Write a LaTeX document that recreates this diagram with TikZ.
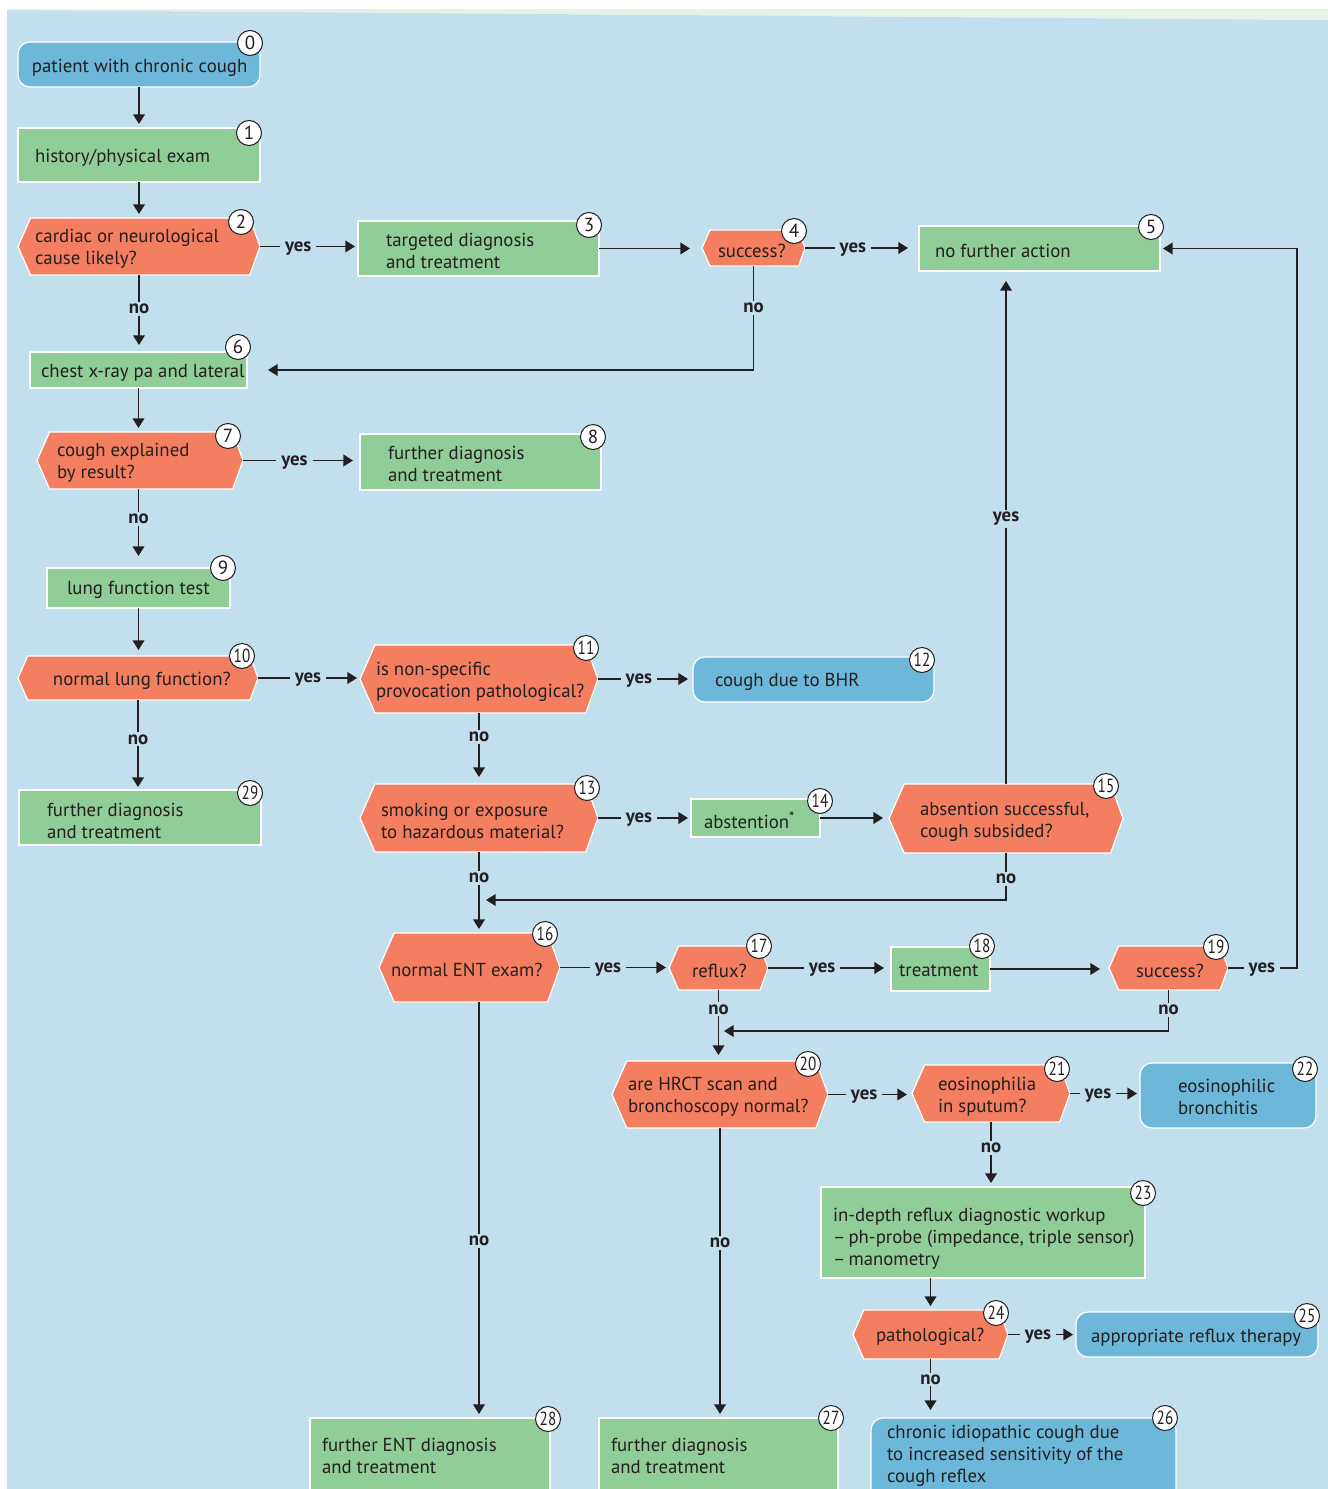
\documentclass[tikz,border=0pt]{standalone}
\usepackage{fontspec}
\setmainfont{PT Sans}
\usetikzlibrary{arrows.meta,calc}
\definecolor{bgblue}{HTML}{C2DFEE}
\definecolor{topgreen}{HTML}{E6F2E4}
\definecolor{nblue}{HTML}{6DB7D9}
\definecolor{ngreen}{HTML}{91CD96}
\definecolor{norange}{HTML}{F47F60}
\definecolor{ink}{HTML}{231F20}
\newcommand\mkshape[6]{%
 \pgfmathsetmacro\myBW{(#5-#3)/2}%
 \pgfmathsetmacro\myBH{(#6-#4)/2}%
 \pgfmathsetmacro\myCX{(#3+#5)/2}%
 \pgfmathsetmacro\myCY{(#4+#6)/2}%
 \node[#1, minimum width=\myBW pt, minimum height=\myBH pt] (#2) at (\myCX,\myCY) {};}
\newcommand\mkhex[5]{%
 \mkshape{hexbase}{#1}{#2}{#3}{#4}{#5}%
 \pgfmathsetmacro\myDL{0.11*(#5-#3)}%
 \pgfmathsetmacro\myDR{0.09*(#5-#3)}%
 \path[hexfill] (#1.west) -- ([xshift=\myDL pt]#1.north west) -- ([xshift=-\myDR pt]#1.north east) -- (#1.east) -- ([xshift=-\myDR pt]#1.south east) -- ([xshift=\myDL pt]#1.south west) -- cycle;}
\newcommand\mktext[4]{\node[txt] (#1) at ({#2},{#3+2.5}) {#4};}
\newcommand\mkbadge[4]{\node[badge] (#1) at (#2,#3) {#4};}
\newcommand\mkbadgeW[4]{\node[badge] (#1) at (#2,#3) {\scalebox{0.8}[1]{#4}};}
\begin{document}
\begin{tikzpicture}[x=0.5pt,y=-0.5pt,
 base/.style={inner sep=0pt, outer sep=0pt},
 gbox/.style={base, rectangle, fill=ngreen, draw=white, line width=0.6pt},
 bbox/.style={base, rectangle, rounded corners=6pt, fill=nblue, draw=white, line width=0.6pt},
 hexbase/.style={base, rectangle},
 hexfill/.style={fill=norange, draw=white, line width=0.6pt},
 txt/.style={base, anchor=west, align=left, text=ink, font=\fontsize{9.4}{11}\selectfont},
 badge/.style={circle, draw=ink, fill=white, line width=0.5pt, inner sep=0pt, minimum size=12.5pt, font=\fontsize{9.5}{10}\selectfont, text=ink},
 ln/.style={draw=ink, line width=0.85pt},
 arr/.style={ln, -{Triangle[length=4.8pt,width=5.8pt]}},
 lbl/.style={fill=bgblue, inner xsep=2.5pt, inner ysep=1pt, yshift=-0.8pt, text=ink, font=\fontsize{9.4}{11}\selectfont\bfseries}]
\useasboundingbox (0,0) rectangle (1328,1489);
\clip (0,0) rectangle (1328,1489);
\fill[white] (0,0) rectangle (1328,1489);
\fill[topgreen] (7,9) -- (1328,9) -- (1328,20) -- (7,10) -- cycle;
\fill[bgblue] (7,10) -- (1328,20) -- (1328,1489) -- (7,1489) -- cycle;
% shapes
\mkshape{bbox}{n0}{18}{42}{260}{87}
\mkshape{gbox}{n1}{18}{128}{260}{182}
\mkhex{n2}{18}{218}{260}{275}
\mkshape{gbox}{n3}{358}{221}{599}{276}
\mkhex{n4}{702}{230}{805}{266}
\mkshape{gbox}{n5}{919}{226}{1160}{271}
\mkshape{gbox}{n6}{30}{352}{247}{388}
\mkhex{n7}{37}{432}{243}{489}
\mkshape{gbox}{n8}{360}{434}{601}{490}
\mkshape{gbox}{n9}{47}{568}{230}{608}
\mkhex{n10}{18}{656}{258}{700}
\mkhex{n11}{360}{645}{598}{713}
\mkshape{bbox}{n12}{693}{657}{934}{702}
\mkhex{n13}{360}{784}{598}{852}
\mkshape{gbox}{n14}{691}{799}{820}{837}
\mkhex{n15}{889}{784}{1123}{853}
\mkhex{n16}{379}{933}{560}{1002}
\mkhex{n17}{669}{946}{768}{990}
\mkshape{gbox}{n18}{891}{947}{990}{991}
\mkhex{n19}{1109}{946}{1228}{990}
\mkhex{n20}{612}{1061}{828}{1128}
\mkhex{n21}{912}{1065}{1070}{1122}
\mkshape{bbox}{n22}{1140}{1063}{1316}{1128}
\mkshape{gbox}{n23}{821}{1187}{1145}{1278}
\mkhex{n24}{853}{1310}{1008}{1359}
\mkshape{bbox}{n25}{1076}{1312}{1318}{1357}
\mkshape{bbox}{n26}{871}{1418}{1176}{1510}
\mkshape{gbox}{n27}{599}{1418}{838}{1510}
\mkshape{gbox}{n28}{310}{1418}{550}{1510}
\mkshape{gbox}{n29}{19}{790}{261}{845}
% texts
\mktext{t0}{32}{65}{patient with chronic cough}
\mktext{t1}{35}{155}{history/physical exam}
\mktext{t2}{35}{246}{cardiac or neurological\\cause likely?}
\mktext{t3}{386}{248}{targeted diagnosis\\and treatment}
\mktext{t4}{718}{248}{success?}
\mktext{t5}{935}{248}{no further action}
\mktext{t6}{41}{370}{chest x-ray pa and lateral}
\mktext{t7}{57}{460}{cough explained\\by result?}
\mktext{t8}{388}{461}{further diagnosis\\and treatment}
\mktext{t9}{67}{587}{lung function test}
\mktext{t10}{53}{678}{normal lung function?}
\mktext{t11}{376}{679}{is non-specific\\provocation pathological?}
\mktext{t12}{715}{679}{cough due to BHR}
\mktext{t13}{381}{818}{smoking or exposure\\to hazardous material?}
\mktext{t14}{704}{818}{abstention\raisebox{0.6ex}{\fontsize{7.5}{8}\selectfont *}}
\mktext{t15}{920}{819}{absention successful,\\cough subsided?}
\mktext{t16}{391}{967}{normal ENT exam?}
\mktext{t17}{692}{968}{reflux?}
\mktext{t18}{899}{968}{treatment}
\mktext{t19}{1136}{968}{success?}
\mktext{t20}{628}{1094}{are HRCT scan and\\bronchoscopy normal?}
\mktext{t21}{938}{1094}{eosinophilia\\in sputum?}
\mktext{t22}{1178}{1094}{eosinophilic\\bronchitis}
\mktext{t23}{833}{1236}{in-depth reflux diagnostic workup\\–\,ph-probe (impedance, triple sensor)\\–\,manometry}
\mktext{t24}{876}{1334}{pathological?}
\mktext{t25}{1091}{1335}{appropriate reflux therapy}
\mktext{t26}{887}{1453}{chronic idiopathic cough due\\to increased sensitivity of the\\cough reflex}
\mktext{t27}{611}{1453}{further diagnosis\\and treatment}
\mktext{t28}{322}{1453}{further ENT diagnosis\\and treatment}
\mktext{t29}{47}{818}{further diagnosis\\and treatment}
% badges
\mkbadge{b0}{250}{43}{0}
\mkbadge{b1}{249}{133}{1}
\mkbadge{b2}{241}{222}{2}
\mkbadge{b3}{589}{225}{3}
\mkbadge{b4}{794}{231}{4}
\mkbadge{b5}{1151}{227}{5}
\mkbadge{b6}{238}{347}{6}
\mkbadge{b7}{228}{436}{7}
\mkbadge{b8}{593}{437}{8}
\mkbadge{b9}{223}{568}{9}
\mkbadgeW{b10}{242}{656}{10}
\mkbadgeW{b11}{586}{648}{11}
\mkbadgeW{b12}{922}{660}{12}
\mkbadgeW{b13}{587}{788}{13}
\mkbadgeW{b14}{820}{801}{14}
\mkbadgeW{b15}{1106}{786}{15}
\mkbadgeW{b16}{545}{934}{16}
\mkbadgeW{b17}{759}{946}{17}
\mkbadgeW{b18}{982}{946}{18}
\mkbadgeW{b19}{1216}{947}{19}
\mkbadgeW{b20}{808}{1064}{20}
\mkbadgeW{b21}{1057}{1069}{21}
\mkbadgeW{b22}{1305}{1069}{22}
\mkbadgeW{b23}{1143}{1193}{23}
\mkbadgeW{b24}{996}{1313}{24}
\mkbadgeW{b25}{1307}{1316}{25}
\mkbadgeW{b26}{1165}{1418}{26}
\mkbadgeW{b27}{831}{1418}{27}
\mkbadgeW{b28}{548}{1419}{28}
\mkbadgeW{b29}{250}{793}{29}
% connectors
\coordinate (j1) at (479,900);
\coordinate (j2) at (719,1031);
\coordinate (c19) at (1297,968);
\draw[arr, shorten >=2pt] (n0.south) -- (n1.north);
\draw[arr, shorten >=2pt] (n1.south) -- (n2.north);
\draw[arr, shorten >=1.5pt] (n2.east) -- node[lbl,pos=.39] (l1) {yes} (n2.east -| n3.west);
\draw[arr, shorten >=3.5pt] (n2.south) -- node[lbl,pos=.42] (l2) {no} (n2.south |- n6.north);
\draw[arr, shorten >=6pt] (n3.east) -- (n3.east -| n4.west);
\draw[arr, shorten >=5.5pt] (n4.east) -- node[lbl,pos=.42] (l3) {yes} (n4.east -| n5.west);
\draw[arr, shorten >=10.5pt] (n4.south) |- node[lbl,pos=.195] (l4) {no} (n6.east);
\draw[arr, shorten >=2pt] (n6.south) -- (n6.south |- n7.north);
\draw[arr, shorten >=3.5pt] (n7.east) -- node[lbl,pos=.44] (l5) {yes} (n7.east -| n8.west);
\draw[arr, shorten >=6pt] (n6.south |- n7.south) -- node[lbl,pos=.36] (l6) {no} (n6.south |- n9.north);
\draw[arr, shorten >=3pt] (n9.south) -- (n9.south |- n10.north);
\draw[arr, shorten >=1.5pt] (n10.east) -- node[lbl,pos=.49] (l7) {yes} (n10.east -| n11.west);
\draw[arr, shorten >=1.5pt] (n10.south) -- node[lbl,pos=.42] (l8) {no} (n10.south |- n29.north);
\draw[arr, shorten >=2.5pt] (n11.east) -- node[lbl,pos=.43] (l9) {yes} (n11.east -| n12.west);
\draw[arr, shorten >=3.5pt] (n11.south) -- node[lbl,pos=.31] (l10) {no} (n11.south |- n13.north);
\draw[arr, shorten >=1.5pt] (n13.east) -- node[lbl,pos=.44] (l11) {yes} (n13.east -| n14.west);
\draw[arr, shorten >=3pt] (n14.east) -- (n14.east -| n15.west);
\draw[arr, shorten >=5pt] (n15.north) -- node[lbl,pos=.52] (l12) {yes} (n15.north |- n5.south);
\draw[arr, shorten >=3.5pt] (n15.south) |- node[lbl,pos=.255] (l13) {no} (j1);
\draw[arr, shorten >=2pt] (n13.south) -- node[lbl,pos=.3] (l14) {no} (n13.south |- n16.north);
\draw[arr, shorten >=1.5pt] (n16.east) -- node[lbl,pos=.44] (l15) {yes} (n16.east -| n17.west);
\draw[arr, shorten >=3.5pt] (n17.east) -- node[lbl,pos=.44] (l16) {yes} (n17.east -| n18.west);
\draw[arr, shorten >=4.5pt] (n18.east) -- (n18.east -| n19.west);
\draw[arr, shorten >=1.5pt] (n19.east) -- node[lbl,pos=.49] (l17) {yes} (n19.east -| c19) |- (n5.east);
\draw[arr, shorten >=3pt] (n17.south) -- node[lbl,pos=.25] (l18) {no} (n17.south |- n20.north);
\draw[arr, shorten >=2.5pt] (n19.south) |- node[lbl,pos=.22] (l19) {no} (j2);
\draw[arr, shorten >=2.5pt] (n20.east) -- node[lbl,pos=.43] (l20) {yes} (n20.east -| n21.west);
\draw[arr, shorten >=1.5pt] (n21.east) -- node[lbl,pos=.4] (l21) {yes} (n21.east -| n22.west);
\draw[arr, shorten >=2pt] (n21.south) -- node[lbl,pos=.37] (l22) {no} (n21.south |- n23.north);
\draw[arr, shorten >=2pt] (n24.north |- n23.south) -- (n24.north);
\draw[arr, shorten >=1.5pt] (n24.east) -- node[lbl,pos=.44] (l23) {yes} (n24.east -| n25.west);
\draw[arr, shorten >=4pt] (n24.south) -- node[lbl,pos=.32] (l24) {no} (n24.south |- n26.north);
\draw[arr, shorten >=2pt] (n13.south |- n16.south) -- node[lbl,pos=.57] (l25) {no} (n13.south |- n28.north);
\draw[arr, shorten >=2pt] (n20.south) -- node[lbl,pos=.39] (l26) {no} (n20.south |- n27.north);
\end{tikzpicture}
\end{document}
